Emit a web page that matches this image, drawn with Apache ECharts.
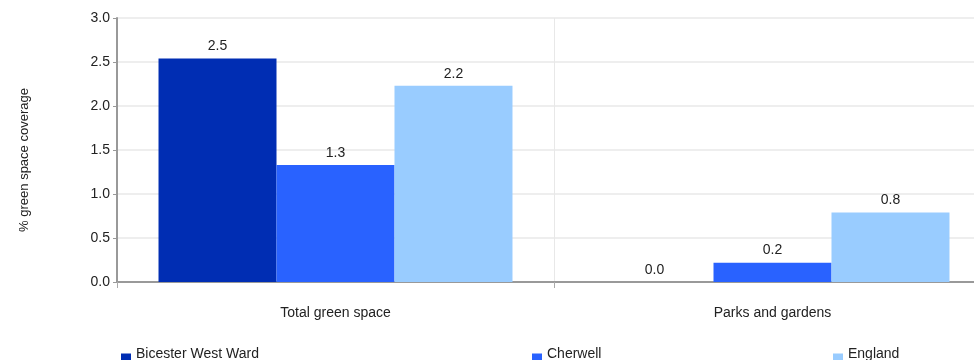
<!DOCTYPE html>
<html>
<head>
<meta charset="utf-8">
<script src="https://cdn.jsdelivr.net/npm/echarts@6/dist/echarts.min.js"></script>
<style>
html,body{margin:0;padding:0;background:#fff;overflow:hidden;}
#c{width:991px;height:360px;}
</style>
</head>
<body>
<div id="c"></div>
<script>
const categories = ['Total green space', 'Parks and gardens'];
const seriesNames = ['Bicester West Ward', 'Cherwell', 'England'];
const bicesterValues = [2.54, 0.0];
const cherwellValues = [1.33, 0.22];
const englandValues = [2.23, 0.79];
const yTicks = [0, 0.5, 1.0, 1.5, 2.0, 2.5, 3.0];
const colors = ['#002db3', '#2962ff', '#99ccff'];

const valuesList = [bicesterValues, cherwellValues, englandValues];
const FONT = '"Liberation Sans", Arial, sans-serif';

const chart = echarts.init(document.getElementById('c'));
const legendLefts = [121, 532, 833];
chart.setOption({
  animation: false,
  textStyle: {fontFamily: FONT},
  grid: {left: 117, top: 18, right: 0, height: 264, containLabel: false},
  legend: seriesNames.map((n, i) => ({
    data: [n], left: legendLefts[i], top: 347, itemWidth: 10, itemHeight: 13,
    icon: 'path://M0,0M0,6L10,6L10,13L0,13Z', itemGap: 6, padding: 0,
    textStyle: {fontFamily: FONT, fontSize: 14, color: '#222'}
  })),
  xAxis: {
    type: 'category', data: categories,
    axisLine: {lineStyle: {color: '#999', width: 2}},
    axisTick: {show: true, length: 6, lineStyle: {color: '#aaa'}},
    axisLabel: {fontFamily: FONT, fontSize: 14, color: '#222', margin: 24},
    splitLine: {show: true, interval: 0, lineStyle: {color: '#e8e8e8'}}
  },
  yAxis: {
    type: 'value', min: yTicks[0], max: yTicks[yTicks.length-1], interval: 0.5,
    name: '% green space coverage', nameLocation: 'middle', nameGap: 86,
    nameTextStyle: {fontFamily: FONT, fontSize: 13, color: '#222', padding: [0, 20, 0, 0]},
    axisLine: {show: true, lineStyle: {color: '#999', width: 2}},
    axisTick: {show: true, length: 4, lineStyle: {color: '#999'}},
    axisLabel: {fontFamily: FONT, fontSize: 14, color: '#222', margin: 7, formatter: v => v.toFixed(1)},
    splitLine: {show: true, lineStyle: {color: '#eeeeee', width: 2}}
  },
  series: seriesNames.map((n, i) => ({
    name: n, type: 'bar', data: valuesList[i],
    barGap: 0, barCategoryGap: '19%',
    itemStyle: {color: colors[i]},
    label: {show: true, position: 'top', distance: 5, fontFamily: FONT, fontSize: 14, color: '#222',
      formatter: p => p.value.toFixed(1)}
  }))
});
</script>
</body>
</html>
